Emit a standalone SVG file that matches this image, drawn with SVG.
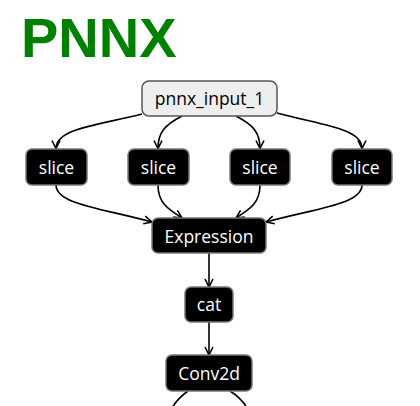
<svg xmlns="http://www.w3.org/2000/svg" width="420" height="406" viewBox="0 0 420 406">
<defs>
<style>
.title{font-family:"Liberation Sans",Arial,sans-serif;font-weight:bold;font-size:56px;fill:#008000}
.n rect{fill:#000;stroke:#777;stroke-width:1.5}
.n text{font-family:"Open Sans","Noto Sans",sans-serif;font-size:17.5px;fill:#fff;text-anchor:middle}
.in rect{fill:#eeeeee;stroke:#555;stroke-width:1.5}
.in text{fill:#000}
.e path{fill:none;stroke:#000;stroke-width:1.6}
</style>
<marker id="ah" viewBox="0 0 10 10" refX="9" refY="5" markerWidth="10" markerHeight="10" markerUnits="userSpaceOnUse" orient="auto">
<path d="M1,1 L9,5 L1,9" fill="none" stroke="#000" stroke-width="1.6"/>
</marker>
</defs>
<rect width="420" height="406" fill="#fff"/>
<text class="title" x="21" y="57">PNNX</text>
<g class="e">
<path d="M142,114 C100,125 56,128 56,148.5" marker-end="url(#ah)"/>
<path d="M182,116 C165,125 158,132 158,148.5" marker-end="url(#ah)"/>
<path d="M236,116 C253,125 260,132 260,148.5" marker-end="url(#ah)"/>
<path d="M277,113 C320,125 362,128 362,148.5" marker-end="url(#ah)"/>
<path d="M56,185 C56,204 100,208 152,222" marker-end="url(#ah)"/>
<path d="M158,185 C158,203 168,209 182,218" marker-end="url(#ah)"/>
<path d="M260,185 C260,203 250,209 236,218" marker-end="url(#ah)"/>
<path d="M362,185 C362,204 318,208 266,222" marker-end="url(#ah)"/>
<path d="M209,253 L209,287" marker-end="url(#ah)"/>
<path d="M209,322 L209,355" marker-end="url(#ah)"/>
<path d="M188,391 C181,396 176,401 172,408"/>
<path d="M230,391 C238,396 243,401 247,408"/>
</g>
<g id="pnnx_input_1" class="n in"><rect x="142" y="81" width="135" height="35" rx="7"/><text x="209.5" y="105">pnnx_input_1</text></g>
<g id="slice_1" class="n"><rect x="26" y="149" width="61" height="36" rx="6"/><text x="56.5" y="174">slice</text></g>
<g id="slice_2" class="n"><rect x="128" y="149" width="61" height="36" rx="6"/><text x="158.5" y="174">slice</text></g>
<g id="slice_3" class="n"><rect x="230" y="149" width="60" height="36" rx="6"/><text x="260" y="174">slice</text></g>
<g id="slice_4" class="n"><rect x="332" y="149" width="60" height="36" rx="6"/><text x="362" y="174">slice</text></g>
<g id="Expression" class="n"><rect x="152" y="218" width="114" height="35" rx="6"/><text x="209" y="242.5">Expression</text></g>
<g id="cat" class="n"><rect x="185" y="287" width="48" height="35" rx="6"/><text x="209" y="311">cat</text></g>
<g id="Conv2d" class="n"><rect x="166" y="355" width="86" height="36" rx="6"/><text x="209" y="380">Conv2d</text></g>
</svg>
